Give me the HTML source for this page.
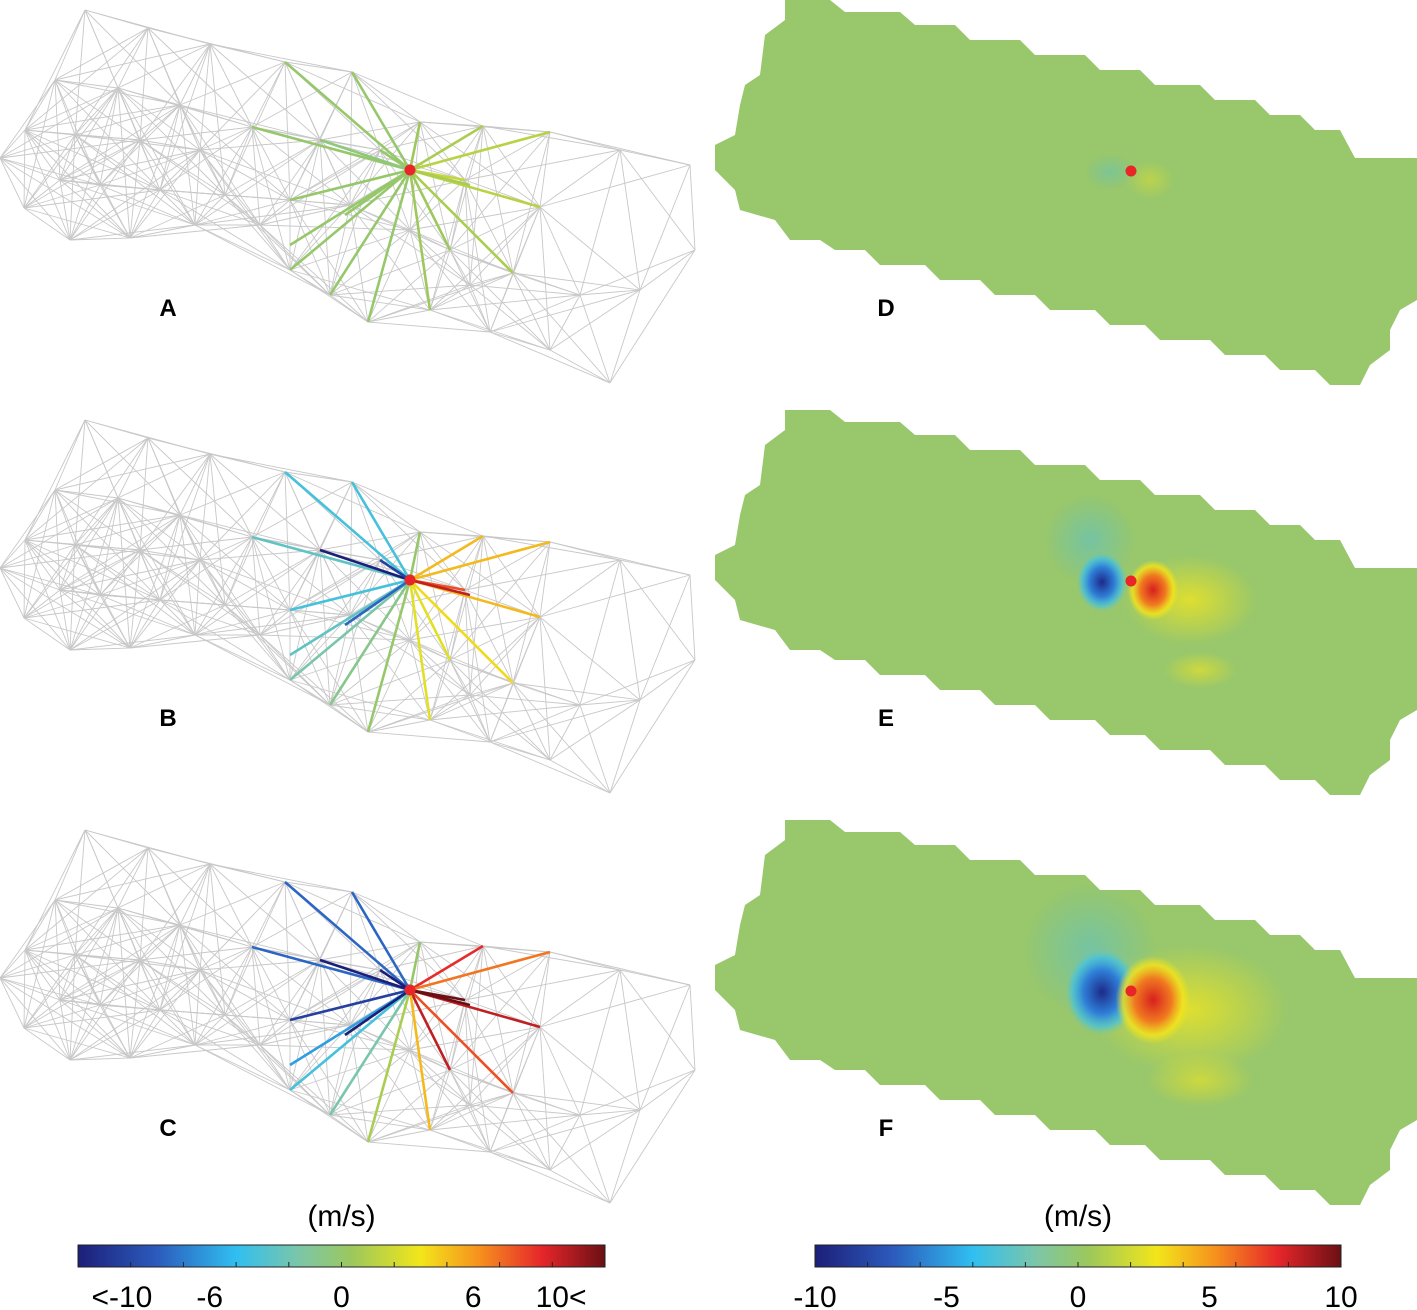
<!DOCTYPE html>
<html><head><meta charset="utf-8"><style>
body{margin:0;background:#fff;}
svg{display:block;font-family:"Liberation Sans",Arial,sans-serif;}
</style></head><body>
<svg id="fig" width="1417" height="1310" viewBox="0 0 1417 1310">
<defs>
<linearGradient id="cmap" x1="0" x2="1" y1="0" y2="0">
<stop offset="0" stop-color="#1c1f78"/><stop offset="0.15" stop-color="#2c5bbd"/>
<stop offset="0.3" stop-color="#30bff0"/><stop offset="0.42" stop-color="#7cc6a8"/>
<stop offset="0.52" stop-color="#9cc85c"/><stop offset="0.65" stop-color="#f2e61a"/>
<stop offset="0.76" stop-color="#f6921e"/><stop offset="0.88" stop-color="#e6262a"/>
<stop offset="1" stop-color="#6a1014"/></linearGradient>
<radialGradient id="gBlue"><stop offset="0" stop-color="#1c2a8a"/><stop offset="0.5" stop-color="#2f7fd8"/><stop offset="0.8" stop-color="#3ec2e8" stop-opacity="0.7"/><stop offset="1" stop-color="#7cc6a8" stop-opacity="0"/></radialGradient>
<radialGradient id="gRed"><stop offset="0" stop-color="#d8201f"/><stop offset="0.5" stop-color="#f07a20"/><stop offset="0.8" stop-color="#f5e41a" stop-opacity="0.8"/><stop offset="1" stop-color="#f5e41a" stop-opacity="0"/></radialGradient>
<radialGradient id="gYel"><stop offset="0" stop-color="#f0e420"/><stop offset="1" stop-color="#f0e420" stop-opacity="0"/></radialGradient>
<radialGradient id="gTeal"><stop offset="0" stop-color="#6cc3b0"/><stop offset="1" stop-color="#6cc3b0" stop-opacity="0"/></radialGradient>
</defs>
<g id="left"></g><g id="right"></g><g id="bars"></g>
</svg>
<script>
const nodes=[[0,158],[85,10],[148,28],[210,44],[285,62],[352,72],[420,122],[483,126],[550,132],[620,150],[690,165],
[25,130],[55,80],[118,88],[180,105],[252,127],[320,140],[380,150],[24,208],[70,240],[130,238],[195,225],[260,225],
[290,270],[330,295],[368,322],[430,310],[490,332],[550,350],[610,383],[580,295],[640,290],[695,250],[513,273],[450,250],
[540,207],[465,180],[100,185],[160,190],[225,195],[290,200],[350,205],[75,135],[140,140],[200,150],[60,180],[410,230],[470,285]];
const center=[410,170];
const rayEnds=[[285,62],[352,72],[420,122],[483,126],[550,132],[465,180],[540,207],[513,273],[450,250],[430,310],[368,322],[330,295],[290,270],[252,127],[290,200],[290,245],[320,140],[345,215],[380,150],[470,185]];
const valsA=[0,0,0.5,1,1.5,2,1.5,1,0.5,0.5,0,0,0,0,0,0,-0.5,0,0,1];
const valsB=[-4,-4,0,5,5,8,5,4,3,3,0,-1,-2,-3,-4,-3,-12,-8,-10,10];
const valsC=[-8,-8,0,9,7,12,10,8,10,5,1,-2,-4,-8,-10,-6,-13,-12,-13,12];
const panelY=[0,410,820];
const labels=["A","B","C"];
const stops=[[0,[28,31,120]],[0.15,[44,91,189]],[0.3,[48,191,240]],[0.42,[124,198,168]],[0.52,[156,200,92]],[0.65,[242,230,26]],[0.76,[246,146,30]],[0.88,[230,38,42]],[1,[106,16,20]]];
function col(v){let t=Math.max(0,Math.min(1,(v+12)/24));for(let i=1;i<stops.length;i++){if(t<=stops[i][0]){const a=stops[i-1],b=stops[i];const f=(t-a[0])/(b[0]-a[0]);return 'rgb('+a[1].map((c,k)=>Math.round(c+(b[1][k]-c)*f)).join(',')+')';}}return 'rgb(106,16,20)';}
const NS="http://www.w3.org/2000/svg";
function mk(tag,attrs,parent){const e=document.createElementNS(NS,tag);for(const k in attrs)e.setAttribute(k,attrs[k]);parent.appendChild(e);return e;}
const L=document.getElementById('left');
[valsA,valsB,valsC].forEach((vals,p)=>{
 const g=mk('g',{transform:'translate(0,'+panelY[p]+')'},L);
 
 
 for(let i=0;i<nodes.length;i++)for(let j=i+1;j<nodes.length;j++){
  const d=Math.hypot(nodes[i][0]-nodes[j][0],nodes[i][1]-nodes[j][1]);
  if(d<160){const e=mk('line',{x1:nodes[i][0],y1:nodes[i][1],x2:nodes[j][0],y2:nodes[j][1],stroke:'#c8c8c8','stroke-width':0.9},g);
   }
 }
 rayEnds.forEach((r,k)=>{const e=mk('line',{x1:center[0],y1:center[1],x2:r[0],y2:r[1],stroke:col(vals[k]),'stroke-width':2.6},g);
  });
 const c=mk('circle',{cx:center[0],cy:center[1],r:5.5,fill:'#e8262a'},g);
 
 const t=mk('text',{x:168,y:316,'font-size':24,'font-weight':'bold','text-anchor':'middle'},g);t.textContent=labels[p];
 
});
const poly="785,0 830,0 845,12 900,12 915,25 955,25 970,40 1020,40 1035,55 1085,55 1100,70 1140,70 1155,85 1200,85 1215,100 1255,100 1270,115 1300,115 1315,130 1340,130 1355,158 1417,158 1417,300 1400,310 1390,330 1390,350 1370,365 1360,385 1330,385 1315,370 1280,370 1265,355 1225,355 1210,340 1160,340 1145,325 1110,325 1095,310 1050,310 1035,295 995,295 980,280 940,280 925,265 880,265 865,250 835,250 820,240 790,240 775,220 740,210 735,190 715,170 715,145 735,135 740,105 745,85 760,75 765,35 785,20";
const R=document.getElementById('right');
const blobScale=[0.15,0.75,1.1];
["D","E","F"].forEach((lab,p)=>{
 const g=mk('g',{transform:'translate(0,'+panelY[p]+')'},R);
 
 
 mk('clipPath',{id:'cp'+p},g).appendChild(Object.assign(document.createElementNS(NS,'polygon'),{})).setAttribute('points',poly);
 mk('polygon',{points:poly,fill:'#98c76c'},g);
 const cg=mk('g',{'clip-path':'url(#cp'+p+')'},g);
 const s=blobScale[p];
 if(p>0){
  mk('ellipse',{cx:1190,cy:190,rx:90*s,ry:60*s,fill:'url(#gYel)',opacity:0.8},cg);
  mk('ellipse',{cx:1090,cy:130,rx:60*s,ry:60*s,fill:'url(#gTeal)',opacity:0.8},cg);
  mk('ellipse',{cx:1200,cy:260,rx:50*s,ry:25*s,fill:'url(#gYel)',opacity:0.6},cg);
  mk('ellipse',{cx:1102,cy:172,rx:34*s,ry:40*s,fill:'url(#gBlue)'},cg);
  mk('ellipse',{cx:1153,cy:180,rx:34*s,ry:40*s,fill:'url(#gRed)'},cg);
 } else {
  mk('ellipse',{cx:1110,cy:172,rx:25,ry:18,fill:'url(#gTeal)',opacity:0.6},cg);
  mk('ellipse',{cx:1150,cy:180,rx:25,ry:20,fill:'url(#gYel)',opacity:0.4},cg);
 }
 const c=mk('circle',{cx:1131,cy:171,r:5.5,fill:'#e8262a'},g);
 
 const t=mk('text',{x:886,y:316,'font-size':24,'font-weight':'bold','text-anchor':'middle'},g);t.textContent=lab;
 
});
const B=document.getElementById('bars');
const leftTicks=["<-10","-6","0","6","10<"];
const leftTickVals=[-10,-6,0,6,10];
const rightTicks=["-10","-5","0","5","10"];
const rightTickVals=[-10,-5,0,5,10];
function bar(x0,w,ticks,tv,range,name){
 const g=mk('g',{},B);
 mk('rect',{x:x0,y:1245,width:w,height:22,fill:'url(#cmap)',stroke:'#222','stroke-width':1},g);
 for(let i=1;i<10;i++){mk('line',{x1:x0+w*i/10,y1:1262,x2:x0+w*i/10,y2:1267,stroke:'#222'},g);}
 const u=mk('text',{x:x0+w/2,y:1226,'font-size':30,'text-anchor':'middle'},g);u.textContent='(m/s)';
 ticks.forEach((lb,i)=>{const x=x0+w*(tv[i]+range)/(2*range);const t=mk('text',{x:x,y:1307,'font-size':30,'text-anchor':'middle'},g);t.textContent=lb;});
}
bar(78,527,leftTicks,leftTickVals,12,'colorbar-left');
bar(815,526,rightTicks,rightTickVals,10,'colorbar-right');
</script>
</body></html>
